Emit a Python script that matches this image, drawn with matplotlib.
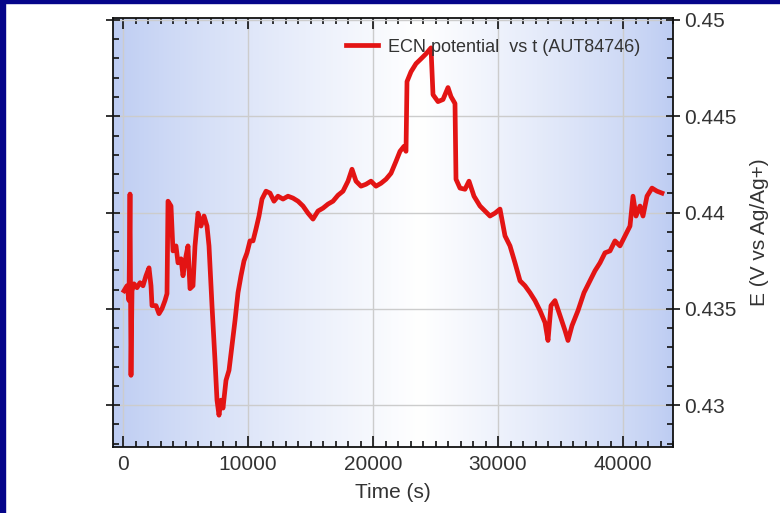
import numpy as np
import matplotlib
matplotlib.use("Agg")
import matplotlib.pyplot as plt
from matplotlib.patches import Rectangle
from matplotlib.ticker import MultipleLocator, FuncFormatter

plt.rcParams['font.family'] = ['Liberation Sans', 'DejaVu Sans']

# ECN potential vs time
time_s = [80, 320, 480, 560, 640, 720, 880, 1120, 1360, 1600, 1840, 2080, 2240, 2320,
          2640, 2880, 3120, 3360, 3520, 3600, 3840, 4000, 4240, 4400, 4640, 4800, 5040,
          5200, 5360, 5600, 5760, 6000, 6240, 6480, 6720, 6880, 7120, 7360, 7520, 7680,
          7840, 8000, 8240, 8480, 8720, 8960, 9200, 9440, 9680, 9920, 10160, 10400,
          10640, 10880, 11120, 11440, 11760, 12080, 12400, 12800, 13200, 13600, 14000,
          14400, 14800, 15200, 15600, 16000, 16400, 16800, 17200, 17600, 18000, 18320,
          18640, 19040, 19440, 19840, 20240, 20640, 21040, 21440, 21840, 22160, 22480,
          22640, 22720, 23040, 23440, 23840, 24240, 24640, 24800, 25200, 25600, 26000,
          26240, 26560, 26640, 26960, 27360, 27680, 28080, 28560, 28960, 29360, 29760,
          30160, 30560, 30960, 31360, 31760, 32160, 32560, 32960, 33360, 33760, 34000,
          34240, 34560, 34960, 35360, 35600, 35920, 36400, 36880, 37360, 37760, 38160,
          38560, 38960, 39360, 39760, 40160, 40560, 40800, 41040, 41360, 41600, 41920,
          42320, 42720, 43120]
potential = [0.43594, 0.43620, 0.43543, 0.44096, 0.43155, 0.43594, 0.43630, 0.43610,
             0.43636, 0.43620, 0.43672, 0.43713, 0.43620, 0.43517, 0.43517, 0.43475,
             0.43501, 0.43543, 0.43579, 0.44059, 0.44034, 0.43801, 0.43827, 0.43739,
             0.43760, 0.43672, 0.43775, 0.43827, 0.43605, 0.43620, 0.43827, 0.43997,
             0.43930, 0.43982, 0.43930, 0.43827, 0.43517, 0.43233, 0.43026, 0.42948,
             0.43026, 0.42985, 0.43129, 0.43181, 0.43310, 0.43439, 0.43584, 0.43672,
             0.43749, 0.43791, 0.43853, 0.43853, 0.43915, 0.43982, 0.44070, 0.44111,
             0.44101, 0.44059, 0.44085, 0.44070, 0.44085, 0.44075, 0.44059, 0.44034,
             0.43997, 0.43966, 0.44008, 0.44023, 0.44044, 0.44059, 0.44090, 0.44111,
             0.44163, 0.44225, 0.44163, 0.44137, 0.44147, 0.44163, 0.44137, 0.44152,
             0.44173, 0.44204, 0.44266, 0.44318, 0.44344, 0.44318, 0.44680, 0.44731,
             0.44773, 0.44798, 0.44824, 0.44855, 0.44612, 0.44576, 0.44587, 0.44649,
             0.44602, 0.44566, 0.44173, 0.44127, 0.44121, 0.44163, 0.44085, 0.44034,
             0.44008, 0.43982, 0.43997, 0.44018, 0.43879, 0.43827, 0.43739, 0.43646,
             0.43620, 0.43584, 0.43543, 0.43491, 0.43429, 0.43336, 0.43517, 0.43543,
             0.43465, 0.43388, 0.43336, 0.43413, 0.43491, 0.43584, 0.43646, 0.43698,
             0.43739, 0.43791, 0.43801, 0.43853, 0.43827, 0.43879, 0.43930, 0.44085,
             0.43982, 0.44034, 0.43982, 0.44085, 0.44127, 0.44111, 0.44101]

fig = plt.figure(figsize=(7.8, 5.13), dpi=100)
ax = fig.add_axes([113 / 780, 1 - 447 / 513, 560 / 780, 429 / 513])

# blue-white-blue horizontal gradient behind the plot
cols = np.linspace(0, 1, 300)
edge = np.array([0.74, 0.80, 0.95])
w = np.interp(cols, [0, 0.55, 1], [0, 1, 0]) ** 0.8
grad = edge[None, :] + (1 - edge[None, :]) * w[:, None]
ax.imshow(grad[None, :, :], extent=(0, 1, 0, 1), transform=ax.transAxes,
          aspect='auto', zorder=0)

ax.plot(time_s, potential, color='#e31414', linewidth=3.4, zorder=3,
        solid_joinstyle='round', label='ECN potential  vs t (AUT84746)')

ax.set_xlim(-800, 44000)
ax.set_ylim(0.42783, 0.4501)
ax.xaxis.set_major_locator(MultipleLocator(10000))
ax.xaxis.set_minor_locator(MultipleLocator(1000))
ax.yaxis.set_major_locator(MultipleLocator(0.005))
ax.yaxis.set_minor_locator(MultipleLocator(0.001))
ax.yaxis.set_major_formatter(FuncFormatter(lambda v, p: f'{v:g}'))

ax.grid(True, which='major', color='#cccccc', linewidth=1.0, zorder=1)
ax.set_axisbelow(True)
ax.tick_params(which='both', direction='in', top=True, bottom=True, left=True,
               right=True, labelleft=False, labelright=True, labelsize=15,
               colors='#111111', labelcolor='#333333', width=1.2)
ax.tick_params(which='major', length=8)
ax.tick_params(which='minor', length=4)
ax.tick_params(axis='x', which='major', pad=6)
ax.tick_params(axis='y', which='major', right=True, direction='inout', length=10, pad=3)
for s in ax.spines.values():
    s.set_color('#111111')
    s.set_linewidth(1.3)

ax.set_xlabel('Time (s)', fontsize=15, color='#333333', labelpad=6)
ax.yaxis.set_label_position('right')
ax.set_ylabel('E (V vs Ag/Ag+)', fontsize=15, color='#333333', labelpad=10)

ax.legend(loc='center right', bbox_to_anchor=(0.954, 0.932), borderaxespad=0,
          frameon=False, fontsize=13, handlelength=1.78, handletextpad=0.55,
          labelcolor='#333333')

# dark navy frame on left and top edges
fig.patches.append(Rectangle((0, 0), 5 / 780, 1, transform=fig.transFigure,
                             color='#05058a', zorder=10))
fig.patches.append(Rectangle((0, 1 - 3 / 513), 1, 3 / 513, transform=fig.transFigure,
                             color='#05058a', zorder=10))

fig.savefig('out.png', dpi=100)
plt.close(fig)
